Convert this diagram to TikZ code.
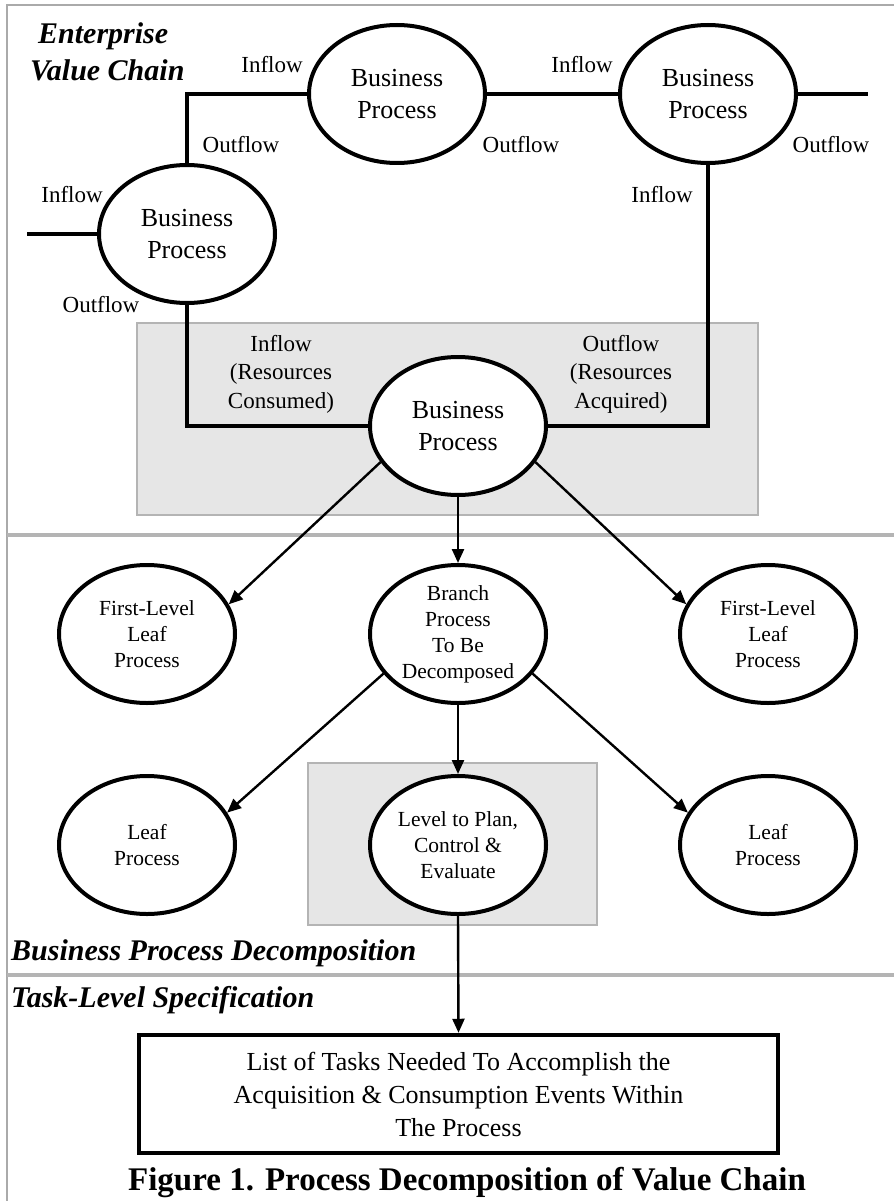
\documentclass[tikz,border=0pt]{standalone}
\usepackage{fontspec}
\setmainfont{Liberation Serif}
\usetikzlibrary{shapes.geometric,arrows.meta}
\definecolor{boxgray}{HTML}{E6E6E6}
\definecolor{edgegray}{HTML}{B4B4B4}
\definecolor{framegray}{HTML}{AAAAAA}
\begin{document}
\begin{tikzpicture}[x=1pt,y=-1pt,
  proc/.style={ellipse,draw=black,line width=4pt,fill=white,
    minimum width=176pt,minimum height=138pt,inner sep=0pt},
  ptxt/.style={align=center,font=\fontsize{26}{32}\selectfont,inner sep=0pt},
  stxt/.style={align=center,font=\fontsize{21.5}{26}\selectfont,inner sep=0pt},
  flow/.style={font=\fontsize{23}{28.5}\selectfont,inner sep=0pt,align=center},
  link/.style={line width=4pt},
  arr/.style={line width=2.4pt,-{Triangle[length=14pt,width=12pt]}},
  zone/.style={fill=boxgray,draw=edgegray,line width=2.5pt},
  sepline/.style={draw=edgegray,line width=4pt},
  sect/.style={font=\fontsize{30}{37}\selectfont\bfseries\itshape,inner sep=0pt,align=left}
]
\useasboundingbox[fill=white] (0,0) rectangle (894,1201);

% outer frame and section separators
\draw[framegray,line width=2pt] (7,1201) -- (7,5) -- (894,5);
\draw[sepline] (7,535) -- (894,535);
\draw[sepline] (7,975) -- (894,975);

% shaded focus areas
\draw[zone] (137,323) rectangle (758,515);
\draw[zone] (308,763) rectangle (597,925);

% section titles
\node[sect,anchor=west] (tEVC) at (30,51.5) {\hspace*{8pt}Enterprise\\Value Chain};
\node[sect,anchor=west] (tBPD) at (11,953) {Business Process Decomposition};
\node[sect,anchor=west] (tTLS) at (11,1000) {Task-Level Specification};

% enterprise value chain
\node[proc,label={[ptxt]center:{Business\\Process}}] (b1) at (397,94) {};
\node[proc,label={[ptxt]center:{Business\\Process}}] (b2) at (708,94) {};
\node[proc,label={[ptxt]center:{Business\\Process}}] (b3) at (187,234) {};
\node[proc,label={[ptxt]center:{Business\\Process}}] (cbp) at (458,426) {};

\coordinate (inL) at (27,234);
\coordinate (outR) at (868,94);
\draw[link] (inL) -- (b3.west);
\draw[link] (b3.north) |- (b1.west);
\draw[link] (b1.east) -- (b2.west);
\draw[link] (b2.east) -- (outR);
\draw[link] (b3.south) |- (cbp.west);
\draw[link] (b2.south) |- (cbp.east);

% flow labels
\node[flow] (l1) at (272,65) {Inflow};
\node[flow] (l2) at (241,145) {Outflow};
\node[flow] (l3) at (72,195) {Inflow};
\node[flow] (l4) at (101,305) {Outflow};
\node[flow] (l5) at (582,65) {Inflow};
\node[flow] (l6) at (521,145) {Outflow};
\node[flow] (l7) at (831,145) {Outflow};
\node[flow] (l8) at (662,195) {Inflow};
\node[flow] (l9) at (281,374) {Inflow\\(Resources\\Consumed)};
\node[flow] (l10) at (621,374) {Outflow\\(Resources\\Acquired)};

% process decomposition
\node[proc,label={[stxt]center:{First-Level\\Leaf\\Process}}] (fl1) at (147,634) {};
\node[proc,label={[stxt]center:{Branch\\Process\\To Be\\Decomposed}}] (br) at (458,634) {};
\node[proc,label={[stxt]center:{First-Level\\Leaf\\Process}}] (fl2) at (768,634) {};
\node[proc,label={[stxt]center:{Leaf\\Process}}] (lf1) at (147,845) {};
\node[proc,label={[stxt]center:{Level to Plan,\\Control \&\\Evaluate}}] (lv) at (458,845) {};
\node[proc,label={[stxt]center:{Leaf\\Process}}] (lf2) at (768,845) {};

% task list
\node[draw=black,line width=4.5pt,minimum width=639pt,minimum height=118pt,
  inner sep=0pt,align=center,font=\fontsize{26}{33}\selectfont] (task) at (458.5,1094)
  {List of Tasks Needed To Accomplish the\\Acquisition \& Consumption Events Within\\The Process};

\draw[arr] (cbp.south) -- (br.north);
\draw[arr] (cbp.205) -- (fl1.20);
\draw[arr] (cbp.-25) -- (fl2.160);
\draw[arr] (br.208) -- (lf1.22);
\draw[arr] (br.-28) -- (lf2.158);
\draw[arr] (br.south) -- (lv.north);
\draw[arr] (lv.south) -- (task.north);

% caption
\node[inner sep=0pt,font=\fontsize{33}{40}\selectfont\bfseries] (cap) at (467,1183)
  {Figure 1. Process Decomposition of Value Chain};
\end{tikzpicture}
\end{document}
